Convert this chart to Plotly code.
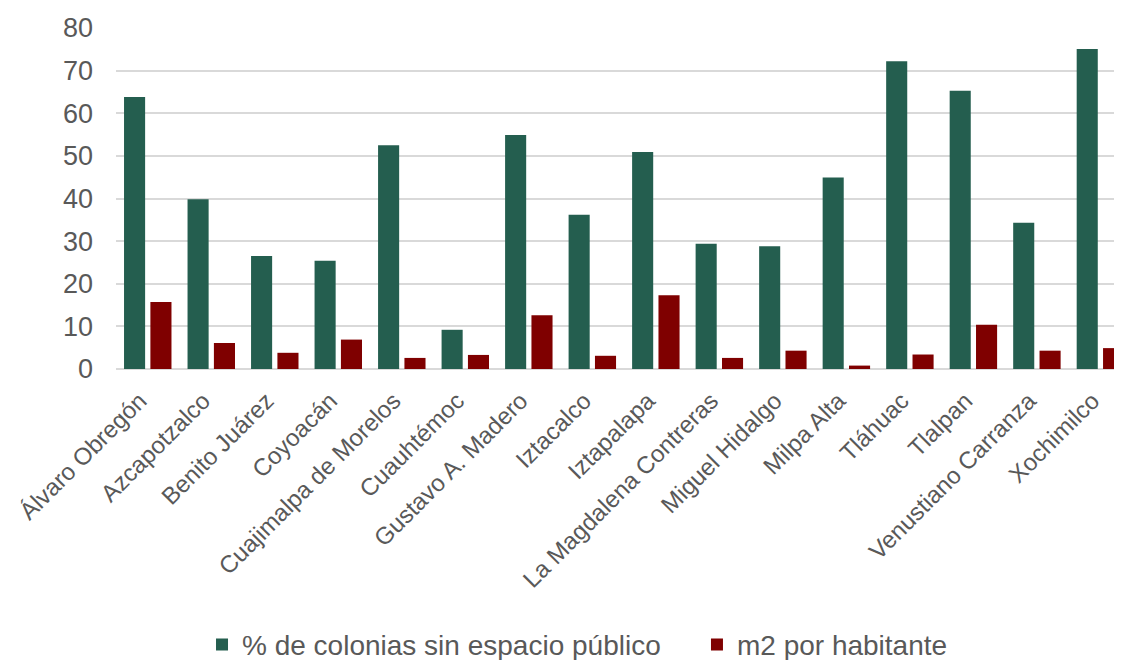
import plotly.graph_objects as go

categories = ["Álvaro Obregón", "Azcapotzalco", "Benito Juárez", "Coyoacán",
              "Cuajimalpa de Morelos", "Cuauhtémoc", "Gustavo A. Madero", "Iztacalco",
              "Iztapalapa", "La Magdalena Contreras", "Miguel Hidalgo", "Milpa Alta",
              "Tláhuac", "Tlalpan", "Venustiano Carranza", "Xochimilco"]
pct_sin_espacio = [63.8, 39.8, 26.5, 25.4, 52.5, 9.2, 54.9, 36.2,
                   50.9, 29.4, 28.8, 44.9, 72.2, 65.3, 34.3, 75.1]
m2_por_habitante = [15.7, 6.1, 3.8, 6.9, 2.6, 3.3, 12.6, 3.1,
                    17.3, 2.6, 4.3, 0.8, 3.4, 10.4, 4.3, 4.9]
y_ticks = [0, 10, 20, 30, 40, 50, 60, 70, 80]

GREEN = "#245E4F"
RED = "#7F0000"
GRAY_TXT = "#595959"
GRID = "#D9D9D9"
FONT = "Liberation Sans, Arial, sans-serif"

fig = go.Figure()
fig.add_trace(go.Bar(x=categories, y=pct_sin_espacio, name="% de colonias sin espacio público",
                     marker=dict(color=GREEN, line=dict(width=0)), legend="legend"))
fig.add_trace(go.Bar(x=categories, y=m2_por_habitante, name="m2 por habitante",
                     marker=dict(color=RED, line=dict(width=0)), legend="legend2"))

legend_font = dict(size=28, color=GRAY_TXT, family=FONT)
fig.update_layout(
    width=1114, height=652,
    margin=dict(l=108, r=0, t=20, b=291, autoexpand=False),
    paper_bgcolor="white", plot_bgcolor="white",
    barmode="group", bargap=0.17, bargroupgap=0.2,
    font=dict(family=FONT, color=GRAY_TXT),
    showlegend=True,
    legend=dict(orientation="h", x=0.0855, xanchor="left", y=-0.809, yanchor="middle",
                font=legend_font, bgcolor="rgba(0,0,0,0)"),
    legend2=dict(orientation="h", x=0.5775, xanchor="left", y=-0.809, yanchor="middle",
                 font=legend_font, bgcolor="rgba(0,0,0,0)"),
)
fig.update_xaxes(type="category", range=[-0.5, 15.34], tickangle=-45,
                 tickfont=dict(size=24, color=GRAY_TXT, family=FONT),
                 showgrid=False, showline=False, ticks="", automargin=False,
                 ticklabelstandoff=12, ticklabelshift=-8)
fig.update_yaxes(range=[0, 80], tickvals=y_ticks, showgrid=True, gridcolor=GRID, gridwidth=1.5,
                 zeroline=True, zerolinecolor=GRID, zerolinewidth=1.5,
                 tickfont=dict(size=27, color=GRAY_TXT, family=FONT),
                 showline=False, ticks="", automargin=False, ticklabelstandoff=22)

fig.write_html("out.html")
